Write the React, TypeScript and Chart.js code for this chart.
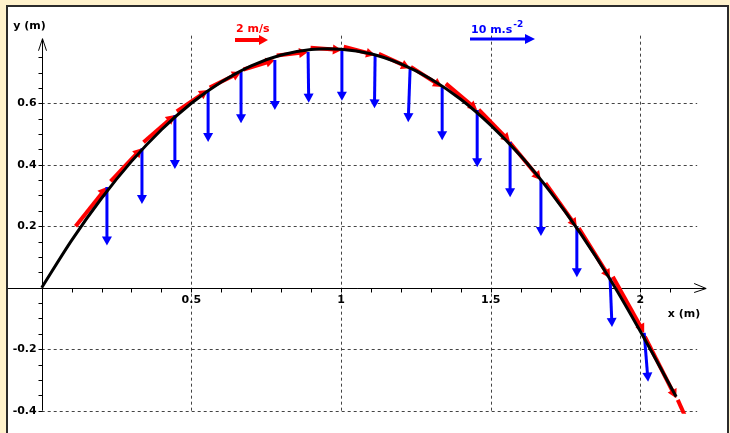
import React, { useEffect, useRef } from "react";
import { Chart, registerables } from "chart.js";

Chart.register(...registerables);

// ---- data ----
// fitted trajectory (black curve)
const curveX = [0, 0.1, 0.2, 0.3, 0.4, 0.5, 0.6, 0.7, 0.8, 0.9, 1.0, 1.1, 1.2, 1.3, 1.4, 1.5, 1.6, 1.7, 1.8, 1.9, 2.0, 2.12];
const curveY = [0, 0.154, 0.291, 0.411, 0.514, 0.6, 0.669, 0.722, 0.757, 0.775, 0.776, 0.761, 0.728, 0.679, 0.613, 0.529, 0.429, 0.311, 0.177, 0.026, -0.142, -0.355];

// measured positions (m)
const pointX = [0.218, 0.335, 0.445, 0.556, 0.666, 0.779, 0.89, 1.003, 1.114, 1.231, 1.338, 1.455, 1.565, 1.668, 1.788, 1.899, 2.013, 2.12, 2.23];
const pointY = [0.328, 0.454, 0.562, 0.643, 0.702, 0.741, 0.767, 0.773, 0.757, 0.714, 0.653, 0.578, 0.474, 0.35, 0.197, 0.031, -0.147, -0.36, -0.594];

// velocity (m/s)
const velX = [1.9, 1.9, 1.9, 1.9, 1.9, 1.9, 1.9, 1.9, 1.9, 1.9, 1.9, 1.9, 1.9, 1.9, 1.9, 1.9, 1.9, 1.9, 1.9];
const velY = [2.38, 2.01, 1.65, 1.29, 0.94, 0.58, 0.22, -0.14, -0.5, -0.88, -1.22, -1.6, -1.96, -2.29, -2.67, -3.03, -3.4, -3.74, -4.27];

// acceleration (m/s^2); null = not drawn
const accX: (number | null)[] = [0, 0, 0, 0, 0, 0, 0.1, 0, -0.1, -0.3, 0, 0, 0, 0, 0, 0.3, 0.6, null, null];
const accY: (number | null)[] = [-9.0, -8.6, -8.3, -8.0, -7.9, -7.7, -7.8, -7.8, -8.2, -8.3, -8.2, -8.8, -8.5, -8.6, -7.7, -7.5, -7.5, null, null];

const xTickValues = [0.5, 1, 1.5, 2];
const xTickLabels = ["0.5", "1", "1.5", "2"];
const yTickValues = [0.6, 0.4, 0.2, -0.2, -0.4];
const yTickLabels = ["0.6", "0.4", "0.2", "-0.2", "-0.4"];

const xAxisTitle = "x (m)";
const yAxisTitle = "y (m)";
const velLegendValue = 2; // m/s
const velLegendText = "2 m/s";
const accLegendValue = 10; // m/s^2
const accLegendText = "10 m.s";
const accLegendSup = "-2";

// ---- styles ----
const VEL_PX = 16.5; // px per m/s
const ACC_PX = 6.5; // px per m/s^2
const RED = "#ff0000";
const BLUE = "#0000ff";
const FONT = "bold 11px 'DejaVu Sans'";

function arrow(ctx: CanvasRenderingContext2D, x1: number, y1: number, x2: number, y2: number, color: string, w: number, hl: number, hw: number) {
  const dx = x2 - x1, dy = y2 - y1;
  const len = Math.hypot(dx, dy);
  if (len < 1) return;
  const ux = dx / len, uy = dy / len;
  const bx = x2 - ux * hl, by = y2 - uy * hl;
  ctx.strokeStyle = color;
  ctx.lineWidth = w;
  ctx.lineCap = "butt";
  ctx.beginPath();
  ctx.moveTo(x1, y1);
  ctx.lineTo(bx + ux * 1, by + uy * 1);
  ctx.stroke();
  ctx.fillStyle = color;
  ctx.beginPath();
  ctx.moveTo(x2, y2);
  ctx.lineTo(bx - uy * hw, by + ux * hw);
  ctx.lineTo(bx + uy * hw, by - ux * hw);
  ctx.closePath();
  ctx.fill();
}

const crisp = (v: number) => Math.round(v) + 0.5;

const decorPlugin = {
  id: "decor",
  beforeDatasetsDraw(chart: any) {
    const ctx: CanvasRenderingContext2D = chart.ctx;
    const xs = chart.scales.x, ys = chart.scales.y;
    const X = (v: number) => xs.getPixelForValue(v);
    const Y = (v: number) => ys.getPixelForValue(v);
    const x0 = crisp(X(0)), y0 = crisp(Y(0));
    ctx.save();
    // dashed grid
    ctx.strokeStyle = "#444";
    ctx.lineWidth = 1;
    ctx.setLineDash([3, 3]);
    for (const v of yTickValues) {
      const py = crisp(Y(v));
      ctx.beginPath();
      ctx.moveTo(X(0), py);
      ctx.lineTo(X(2.19), py);
      ctx.stroke();
    }
    for (const v of xTickValues) {
      const px = crisp(X(v));
      ctx.beginPath();
      ctx.moveTo(px, Y(-0.4));
      ctx.lineTo(px, Y(0.825));
      ctx.stroke();
    }
    ctx.setLineDash([]);
    // axes
    ctx.strokeStyle = "#000";
    ctx.beginPath();
    ctx.moveTo(8, y0);
    ctx.lineTo(X(2.22), y0);
    ctx.moveTo(x0, Y(-0.4));
    ctx.lineTo(x0, Y(0.81));
    ctx.stroke();
    // open arrowheads
    const tipX = X(2.22), tipY = Y(0.81);
    ctx.beginPath();
    ctx.moveTo(tipX - 12, y0 - 5);
    ctx.lineTo(tipX, y0);
    ctx.lineTo(tipX - 12, y0 + 4);
    ctx.moveTo(x0 - 4, tipY + 12);
    ctx.lineTo(x0, tipY);
    ctx.lineTo(x0 + 4, tipY + 12);
    ctx.stroke();
    // minor ticks
    ctx.beginPath();
    for (let i = -8; i <= 15; i++) {
      if (i === 0) continue;
      const py = crisp(Y(i * 0.05));
      ctx.moveTo(x0 - 4, py);
      ctx.lineTo(x0, py);
    }
    for (let i = 1; i <= 21; i++) {
      const px = crisp(X(i * 0.1));
      ctx.moveTo(px, y0);
      ctx.lineTo(px, y0 + 4);
    }
    ctx.stroke();

    // red velocity arrows (ending at each point), clipped at bottom
    ctx.save();
    ctx.beginPath();
    ctx.rect(0, 0, chart.width, Y(-0.41));
    ctx.clip();
    for (let i = 0; i < pointX.length; i++) {
      const px = X(pointX[i]), py = Y(pointY[i]);
      const sx = px - velX[i] * VEL_PX, sy = py + velY[i] * VEL_PX;
      arrow(ctx, sx, sy, px, py, RED, 4, 9, 5);
    }
    // blue acceleration arrows (starting at each point)
    for (let i = 0; i < pointX.length; i++) {
      const ax = accX[i], ay = accY[i];
      if (ax === null || ay === null) continue;
      const px = X(pointX[i]), py = Y(pointY[i]);
      arrow(ctx, px, py, px + ax * ACC_PX, py - ay * ACC_PX, BLUE, 3, 9, 5);
    }
    ctx.restore();
    ctx.restore();
  },
  afterDatasetsDraw(chart: any) {
    const ctx: CanvasRenderingContext2D = chart.ctx;
    const xs = chart.scales.x, ys = chart.scales.y;
    const X = (v: number) => xs.getPixelForValue(v);
    const Y = (v: number) => ys.getPixelForValue(v);
    const x0 = X(0), y0 = Y(0);
    ctx.save();
    ctx.font = FONT;
    ctx.fillStyle = "#000";
    ctx.textBaseline = "middle";
    ctx.textAlign = "right";
    yTickValues.forEach((v, i) => ctx.fillText(yTickLabels[i], x0 - 5, Y(v)));
    ctx.textAlign = "center";
    xTickValues.forEach((v, i) => ctx.fillText(xTickLabels[i], X(v), y0 + 12));
    ctx.textAlign = "right";
    ctx.fillText(xAxisTitle, X(2.2), y0 + 26);
    ctx.fillText(yAxisTitle, x0 + 4, 26);

    // legend: velocity
    ctx.textAlign = "left";
    ctx.textBaseline = "alphabetic";
    ctx.fillStyle = RED;
    ctx.fillText(velLegendText, 236, 32);
    arrow(ctx, 235, 40, 235 + velLegendValue * VEL_PX, 40, RED, 4, 9, 5);
    // legend: acceleration
    ctx.fillStyle = BLUE;
    ctx.fillText(accLegendText, 471, 33);
    const w = ctx.measureText(accLegendText).width;
    ctx.font = "bold 9px 'DejaVu Sans'";
    ctx.fillText(accLegendSup, 471 + w + 1, 27);
    arrow(ctx, 470, 39, 470 + accLegendValue * ACC_PX, 39, BLUE, 3, 10, 5);
    ctx.restore();
  },
};

export default function App() {
  const ref = useRef<HTMLCanvasElement | null>(null);
  useEffect(() => {
    if (!ref.current) return;
    const chart = new Chart(ref.current, {
      type: "scatter",
      data: {
        datasets: [
          {
            label: "trajectory",
            data: curveX.map((x, i) => ({ x, y: curveY[i] })),
            showLine: true,
            borderColor: "#000",
            borderWidth: 3,
            pointRadius: 0,
            tension: 0.3,
            fill: false,
          },
        ],
      },
      options: {
        responsive: false,
        animation: false,
        events: [],
        layout: { padding: 0, autoPadding: false },
        plugins: { legend: { display: false }, tooltip: { enabled: false } },
        scales: {
          x: { type: "linear", min: -0.1393, max: 2.2997, display: false },
          y: { type: "linear", min: -0.4727, max: 0.936, display: false },
        },
      },
      plugins: [decorPlugin],
    } as any);
    return () => chart.destroy();
  }, []);

  return (
    <div style={{ position: "fixed", left: 0, top: 0, width: 730, height: 433, background: "#fff2cc", overflow: "hidden" }}>
      <div
        style={{
          position: "absolute",
          left: 6,
          top: 5,
          width: 723,
          height: 445,
          boxSizing: "border-box",
          background: "#fff",
          borderLeft: "2px solid #2b2b2b",
          borderTop: "2px solid #2b2b2b",
          borderRight: "2px solid #2b2b2b",
        }}
      />
      <canvas ref={ref} width={730} height={433} style={{ position: "absolute", left: 0, top: 0 }} />
    </div>
  );
}
